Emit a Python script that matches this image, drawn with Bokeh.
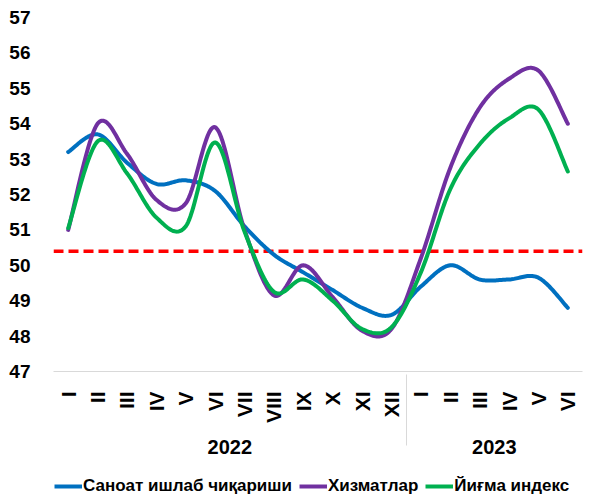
import numpy as np
from bokeh.plotting import figure
from bokeh.layouts import column
from bokeh.models import FactorRange, Span, Legend, LegendItem, FixedTicker, Range1d
from bokeh.embed import file_html
from bokeh.resources import INLINE

# ---------------- data ----------------
years = ["2022"] * 12 + ["2023"] * 6
months = ["I", "II", "III", "IV", "V", "VI", "VII", "VIII", "IX", "X", "XI", "XII",
          "I", "II", "III", "IV", "V", "VI"]
industry = [53.2, 53.7, 52.9, 52.3, 52.4, 52.1, 51.1, 50.3, 49.8, 49.3, 48.8, 48.6,
            49.4, 50.0, 49.6, 49.6, 49.65, 48.8]
services = [51.0, 54.0, 53.15, 51.85, 51.75, 53.9, 51.0, 49.15, 50.0, 49.1, 48.15, 48.2,
            50.2, 52.75, 54.45, 55.27, 55.5, 54.0]
composite = [51.05, 53.5, 52.6, 51.35, 51.1, 53.47, 50.95, 49.25, 49.6, 49.0, 48.2, 48.25,
             49.8, 52.15, 53.42, 54.15, 54.4, 52.65]
threshold = 50.4
y_ticks = [47, 48, 49, 50, 51, 52, 53, 54, 55, 56, 57]
series_names = ["Саноат ишлаб чиқариши", "Хизматлар", "Йиғма индекс"]
series_colors = ["#0070C0", "#7030A0", "#00B050"]

FONT = "Liberation Sans"


def smooth(vals, steps=24):
    """Excel-like smoothed line (Catmull-Rom as cubic Bezier) in synthetic x coords."""
    y = np.asarray(vals, float)
    n = len(y)
    x = np.arange(n) + 0.5
    pts = np.column_stack([x, y])
    xs, ys = [], []
    for i in range(n - 1):
        i0 = max(i - 1, 0)
        i3 = min(i + 2, n - 1)
        p0, p3 = pts[i], pts[i + 1]
        c1 = p0 + (pts[i + 1] - pts[i0]) / 6.0
        c2 = p3 - (pts[i3] - pts[i]) / 6.0
        t = np.linspace(0, 1, steps, endpoint=(i == n - 2))[:, None]
        b = ((1 - t) ** 3) * p0 + 3 * ((1 - t) ** 2) * t * c1 + 3 * (1 - t) * t ** 2 * c2 + t ** 3 * p3
        xs.extend(b[:, 0])
        ys.extend(b[:, 1])
    return xs, ys


factors = list(zip(years, months))
p = figure(
    x_range=FactorRange(*factors, group_padding=0, range_padding=0, factor_padding=0),
    y_range=(y_ticks[0], y_ticks[-1]),
    frame_width=529, frame_height=354,
    output_backend="svg", toolbar_location=None,
    min_border_left=53, min_border_right=8, min_border_top=17, min_border_bottom=100,
)
p.outline_line_color = None
p.xgrid.visible = False
p.ygrid.visible = False

# threshold line
p.add_layout(Span(location=threshold, dimension="width", line_color="#FF0000",
                  line_dash="10 5", line_width=3.5, level="underlay"))

curves = []
for vals, col in zip([industry, services, composite], series_colors):
    xs, ys = smooth(vals)
    curves.append((xs, ys))
    p.line(xs, ys, line_color=col, line_width=4, line_join="round", line_cap="round")

# y axis
ya = p.yaxis[0]
ya.ticker = FixedTicker(ticks=y_ticks)
ya.axis_line_color = None
ya.major_tick_line_color = None
ya.minor_tick_line_color = None
ya.major_label_standoff = 17
ya.major_label_text_font = FONT
ya.major_label_text_font_style = "bold"
ya.major_label_text_font_size = "19px"
ya.major_label_text_color = "black"

# x axis
xa = p.xaxis[0]
xa.axis_line_color = "#D9D9D9"
xa.axis_line_width = 1
xa.major_tick_line_color = None
xa.minor_tick_line_color = None
xa.major_label_orientation = np.pi / 2
xa.major_label_standoff = 14
xa.major_label_text_font = FONT
xa.major_label_text_font_style = "bold"
xa.major_label_text_font_size = "21px"
xa.major_label_text_color = "black"
xa.group_text_font = FONT
xa.group_text_font_style = "bold"
xa.group_text_font_size = "20px"
xa.group_text_color = "black"
xa.separator_line_color = "#D9D9D9"
xa.separator_line_width = 1

# legend strip: a second plot whose frame only holds the legend
lg = figure(width=590, height=26, x_range=Range1d(0, 1), y_range=Range1d(0, 1),
            x_axis_type=None, y_axis_type=None, output_backend="svg",
            toolbar_location=None, min_border=0)
lg.outline_line_color = None
lg.xgrid.visible = False
lg.ygrid.visible = False
legend_renderers = [lg.line(xs, ys, line_color=c, line_width=4)
                    for (xs, ys), c in zip(curves, series_colors)]
legend = Legend(
    items=[LegendItem(label=n, renderers=[r]) for n, r in zip(series_names, legend_renderers)],
    orientation="horizontal", location=(1, 1),
    border_line_color=None, background_fill_alpha=0,
    label_text_font=FONT, label_text_font_style="bold", label_text_font_size="17px",
    label_text_color="black", glyph_width=28, glyph_height=18, label_standoff=1,
    spacing=7, padding=0, margin=0, label_height=18,
)
lg.add_layout(legend, "center")

layout = column(p, lg, spacing=0)
open("out.html", "w").write(file_html(layout, INLINE))
